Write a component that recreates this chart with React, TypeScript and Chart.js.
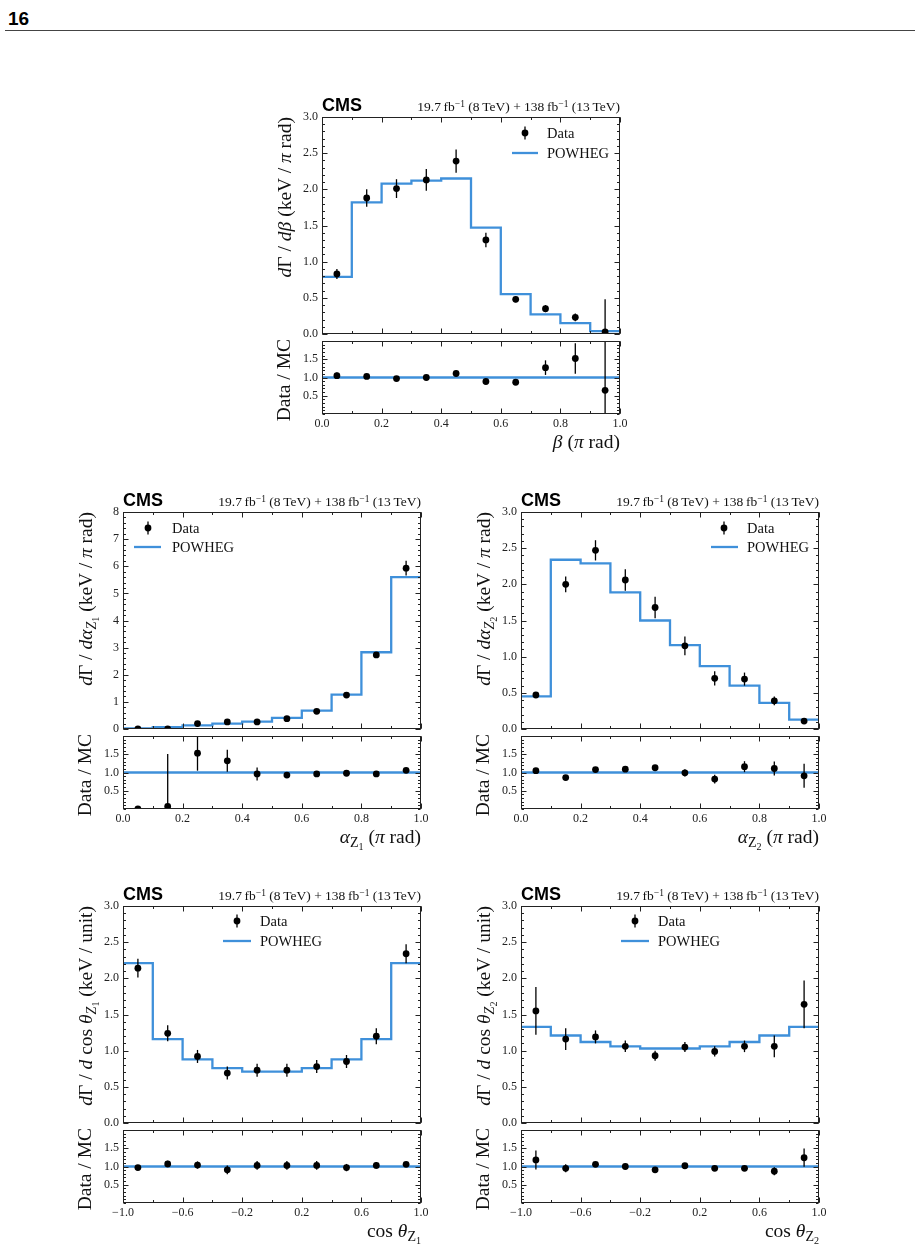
import React, { useEffect, useRef } from "react";
import { Chart, registerables } from "chart.js";

Chart.register(...registerables);

const BLUE = "#3f90da";
const SERIF = "'Liberation Serif', 'DejaVu Serif', serif";
const SANS = "'Liberation Sans', Arial, sans-serif";
const INK = "#222";
const TITLE_SIZE = 19.5;

// ---------- shared axes ----------
const angleEdges = [0.0, 0.1, 0.2, 0.3, 0.4, 0.5, 0.6, 0.7, 0.8, 0.9, 1.0];
const angleCenters = [0.05, 0.15, 0.25, 0.35, 0.45, 0.55, 0.65, 0.75, 0.85, 0.95];
const cosEdges = [-1.0, -0.8, -0.6, -0.4, -0.2, 0.0, 0.2, 0.4, 0.6, 0.8, 1.0];
const cosCenters = [-0.9, -0.7, -0.5, -0.3, -0.1, 0.1, 0.3, 0.5, 0.7, 0.9];

const angleTicks = [0.0, 0.2, 0.4, 0.6, 0.8, 1.0];
const angleTickLabels = ["0.0", "0.2", "0.4", "0.6", "0.8", "1.0"];
const cosTicks = [-1.0, -0.6, -0.2, 0.2, 0.6, 1.0];
const cosTickLabels = ["\u22121.0", "\u22120.6", "\u22120.2", "0.2", "0.6", "1.0"];
const yTicks3 = [0.0, 0.5, 1.0, 1.5, 2.0, 2.5, 3.0];
const yTickLabels3 = ["0.0", "0.5", "1.0", "1.5", "2.0", "2.5", "3.0"];
const yTicks8 = [0, 1, 2, 3, 4, 5, 6, 7, 8];
const yTickLabels8 = ["0", "1", "2", "3", "4", "5", "6", "7", "8"];
const ratioTicks = [0.5, 1.0, 1.5];
const ratioTickLabels = ["0.5", "1.0", "1.5"];

// ---------- beta ----------
const betaMC = [0.79, 1.82, 2.08, 2.12, 2.15, 1.47, 0.55, 0.27, 0.15, 0.04];
const betaData = [0.83, 1.88, 2.01, 2.13, 2.39, 1.3, 0.48, 0.35, 0.23, 0.03];
const betaErr = [0.07, 0.12, 0.13, 0.15, 0.16, 0.1, 0.04, 0.05, 0.055, 0.45];
const betaRatio = [1.05, 1.03, 0.97, 1.0, 1.11, 0.89, 0.87, 1.27, 1.52, 0.65];
const betaRatioErr = [0.09, 0.066, 0.06, 0.07, 0.075, 0.07, 0.07, 0.2, 0.42, 1.6];

// ---------- alpha Z1 ----------
const aZ1MC = [0.02, 0.07, 0.13, 0.2, 0.27, 0.41, 0.68, 1.27, 2.83, 5.6];
const aZ1Data = [0.0, 0.007, 0.2, 0.26, 0.26, 0.38, 0.65, 1.25, 2.73, 5.93];
const aZ1Err = [0.01, 0.1, 0.06, 0.06, 0.05, 0.04, 0.05, 0.06, 0.1, 0.27];
const aZ1Ratio = [0.0, 0.07, 1.53, 1.32, 0.96, 0.93, 0.96, 0.98, 0.96, 1.06];
const aZ1RatioErr = [0.0, 1.44, 0.48, 0.3, 0.18, 0.08, 0.05, 0.04, 0.04, 0.05];

// ---------- alpha Z2 ----------
const aZ2MC = [0.45, 2.34, 2.29, 1.89, 1.5, 1.16, 0.87, 0.6, 0.36, 0.13];
const aZ2Data = [0.47, 2.0, 2.47, 2.06, 1.68, 1.15, 0.7, 0.69, 0.39, 0.11];
const aZ2Err = [0.03, 0.11, 0.14, 0.15, 0.15, 0.13, 0.1, 0.09, 0.06, 0.03];
const aZ2Ratio = [1.05, 0.86, 1.08, 1.09, 1.13, 0.99, 0.82, 1.16, 1.11, 0.91];
const aZ2RatioErr = [0.07, 0.05, 0.06, 0.06, 0.07, 0.1, 0.12, 0.15, 0.19, 0.33];

// ---------- cos theta Z1 ----------
const cZ1MC = [2.21, 1.16, 0.88, 0.76, 0.71, 0.71, 0.76, 0.88, 1.16, 2.21];
const cZ1Data = [2.14, 1.24, 0.92, 0.69, 0.73, 0.73, 0.78, 0.85, 1.2, 2.34];
const cZ1Err = [0.13, 0.11, 0.09, 0.09, 0.09, 0.09, 0.09, 0.09, 0.11, 0.13];
const cZ1Ratio = [0.97, 1.07, 1.04, 0.91, 1.03, 1.03, 1.03, 0.97, 1.03, 1.06];
const cZ1RatioErr = [0.06, 0.09, 0.1, 0.12, 0.12, 0.12, 0.12, 0.1, 0.09, 0.06];

// ---------- cos theta Z2 ----------
const cZ2MC = [1.33, 1.21, 1.12, 1.06, 1.03, 1.03, 1.06, 1.12, 1.21, 1.33];
const cZ2Data = [1.55, 1.16, 1.19, 1.06, 0.93, 1.05, 0.99, 1.06, 1.06, 1.64];
const cZ2Err = [0.33, 0.15, 0.09, 0.08, 0.07, 0.07, 0.07, 0.08, 0.15, 0.33];
const cZ2Ratio = [1.18, 0.95, 1.06, 1.0, 0.91, 1.02, 0.95, 0.95, 0.87, 1.24];
const cZ2RatioErr = [0.26, 0.11, 0.06, 0.06, 0.06, 0.06, 0.06, 0.06, 0.11, 0.25];

// ---------- geometry ----------
const W = 298;
const H_MAIN = 217;
const GAP = 7;
const H_RATIO = 73;

function steps(from: number, to: number, step: number): number[] {
  const out: number[] = [];
  const n = Math.round((to - from) / step);
  for (let i = 0; i <= n; i++) out.push(+(from + i * step).toFixed(6));
  return out;
}

type Leg = { mx: number; my: number; tx: number; lx1: number; lx2: number; ly: number };

interface SubCfg {
  plotLeft: number;
  plotTop: number;
  w: number;
  h: number;
  xMin: number;
  xMax: number;
  xTicks: number[];
  xTickLabels: string[];
  xMinor: number[];
  showXLabels: boolean;
  yMin: number;
  yMax: number;
  yTicks: number[];
  yTickLabels: string[];
  yMinor: number[];
  line: { x: number; y: number }[];
  pts: number[];
  ptsX: number[];
  errs: number[];
  legend?: Leg;
}

function SubPlot({ cfg }: { cfg: SubCfg }) {
  const ref = useRef<HTMLCanvasElement>(null);
  const PADL = 50;
  const PADR = 18;
  const PADT = 12;
  const PADB = cfg.showXLabels ? 26 : 12;
  const cw = cfg.w + PADL + PADR;
  const ch = cfg.h + PADT + PADB;

  useEffect(() => {
    const canvas = ref.current!;
    const overlay = {
      id: "frameAndBars",
      afterDatasetsDraw(chart: any) {
        const { ctx, chartArea: a } = chart;
        const xs = chart.scales.x;
        const ys = chart.scales.y;
        ctx.save();
        ctx.beginPath();
        ctx.rect(a.left, a.top, a.right - a.left, a.bottom - a.top);
        ctx.clip();
        ctx.strokeStyle = "#000";
        ctx.lineWidth = 1.3;
        cfg.ptsX.forEach((cx, i) => {
          const e = cfg.errs[i];
          if (!e) return;
          const px = xs.getPixelForValue(cx);
          ctx.beginPath();
          ctx.moveTo(px, ys.getPixelForValue(cfg.pts[i] - e));
          ctx.lineTo(px, ys.getPixelForValue(cfg.pts[i] + e));
          ctx.stroke();
        });
        ctx.restore();
      },
      afterDraw(chart: any) {
        const { ctx, chartArea: a } = chart;
        const xs = chart.scales.x;
        const ys = chart.scales.y;
        const L = Math.round(a.left) + 0.5;
        const R = Math.round(a.right) - 0.5;
        const T = Math.round(a.top) + 0.5;
        const B = Math.round(a.bottom) - 0.5;
        ctx.save();
        ctx.strokeStyle = INK;
        ctx.lineWidth = 1;
        ctx.strokeRect(L, T, R - L, B - T);
        const vtick = (v: number, len: number) => {
          const px = Math.round(xs.getPixelForValue(v)) + 0.5;
          ctx.beginPath();
          ctx.moveTo(px, B);
          ctx.lineTo(px, B - len);
          ctx.moveTo(px, T);
          ctx.lineTo(px, T + len);
          ctx.stroke();
        };
        const htick = (v: number, len: number) => {
          const py = Math.round(ys.getPixelForValue(v)) + 0.5;
          ctx.beginPath();
          ctx.moveTo(L, py);
          ctx.lineTo(L + len, py);
          ctx.moveTo(R, py);
          ctx.lineTo(R - len, py);
          ctx.stroke();
        };
        cfg.xMinor.forEach((v) => vtick(v, 2.5));
        cfg.xTicks.forEach((v) => vtick(v, 5));
        cfg.yMinor.forEach((v) => htick(v, 2.5));
        cfg.yTicks.forEach((v) => htick(v, 5));

        const lg = cfg.legend;
        if (lg) {
          const ox = a.left;
          const oy = a.top;
          ctx.strokeStyle = "#000";
          ctx.lineWidth = 1.3;
          ctx.beginPath();
          ctx.moveTo(ox + lg.mx, oy + lg.my - 6.5);
          ctx.lineTo(ox + lg.mx, oy + lg.my + 6.5);
          ctx.stroke();
          ctx.fillStyle = "#000";
          ctx.beginPath();
          ctx.arc(ox + lg.mx, oy + lg.my, 3.4, 0, Math.PI * 2);
          ctx.fill();
          ctx.strokeStyle = BLUE;
          ctx.lineWidth = 2.3;
          ctx.beginPath();
          ctx.moveTo(ox + lg.lx1, oy + lg.ly);
          ctx.lineTo(ox + lg.lx2, oy + lg.ly);
          ctx.stroke();
          ctx.fillStyle = "#111";
          ctx.font = `14.5px ${SERIF}`;
          ctx.textBaseline = "middle";
          ctx.textAlign = "left";
          ctx.fillText("Data", ox + lg.tx, oy + lg.my + 1);
          ctx.fillText("POWHEG", ox + lg.tx, oy + lg.ly + 1);
        }
        ctx.restore();
      },
    };

    const chart = new Chart(canvas, {
      type: "line",
      data: {
        datasets: [
          {
            label: "Data",
            data: cfg.ptsX.map((x, i) => ({ x, y: cfg.pts[i] })),
            showLine: false,
            pointRadius: 3.4,
            pointBorderWidth: 0,
            pointBackgroundColor: "#000",
            pointBorderColor: "#000",
            order: 0,
          },
          {
            label: "POWHEG",
            data: cfg.line,
            stepped: "before",
            borderColor: BLUE,
            borderWidth: 2.3,
            pointRadius: 0,
            fill: false,
            order: 1,
          },
        ],
      },
      options: {
        animation: false,
        responsive: false,
        devicePixelRatio: 1,
        events: [],
        layout: { padding: { left: 0, right: PADR, top: PADT, bottom: cfg.showXLabels ? 0 : PADB } },
        plugins: { legend: { display: false }, tooltip: { enabled: false } },
        scales: {
          x: {
            type: "linear",
            min: cfg.xMin,
            max: cfg.xMax,
            display: cfg.showXLabels,
            afterBuildTicks: (s: any) => {
              s.ticks = cfg.xTicks.map((v) => ({ value: v }));
            },
            afterFit: (s: any) => {
              s.height = cfg.showXLabels ? PADB : 0;
            },
            ticks: {
              autoSkip: false,
              maxRotation: 0,
              padding: 3,
              color: INK,
              font: { family: SERIF, size: 12 },
              callback: (v: any) => {
                const i = cfg.xTicks.findIndex((t) => Math.abs(t - v) < 1e-6);
                return i >= 0 ? cfg.xTickLabels[i] : "";
              },
            },
            grid: { display: false, drawTicks: false },
            border: { display: false },
          },
          y: {
            type: "linear",
            min: cfg.yMin,
            max: cfg.yMax,
            afterBuildTicks: (s: any) => {
              s.ticks = cfg.yTicks.map((v) => ({ value: v }));
            },
            afterFit: (s: any) => {
              s.width = PADL;
            },
            ticks: {
              autoSkip: false,
              padding: 4,
              color: INK,
              font: { family: SERIF, size: 12 },
              callback: (v: any) => {
                const i = cfg.yTicks.findIndex((t) => Math.abs(t - v) < 1e-6);
                return i >= 0 ? cfg.yTickLabels[i] : "";
              },
            },
            grid: { display: false, drawTicks: false },
            border: { display: false },
          },
        },
      } as any,
      plugins: [overlay as any],
    });
    const a = chart.chartArea;
    canvas.style.left = `${cfg.plotLeft - a.left}px`;
    canvas.style.top = `${cfg.plotTop - a.top}px`;
    return () => chart.destroy();
  }, []);

  return (
    <canvas
      ref={ref}
      width={cw}
      height={ch}
      style={{ position: "absolute", left: cfg.plotLeft - PADL, top: cfg.plotTop - PADT, width: cw, height: ch }}
    />
  );
}

const Sub = ({ children }: { children: React.ReactNode }) => (
  <span style={{ fontSize: "0.72em", verticalAlign: "-0.28em", lineHeight: 0 }}>{children}</span>
);
const Sup = ({ children }: { children: React.ReactNode }) => (
  <span style={{ fontSize: "0.7em", verticalAlign: "0.45em", lineHeight: 0 }}>{children}</span>
);

function RotTitle({ cx, top, children }: { cx: number; top: number; children: React.ReactNode }) {
  return (
    <div style={{ position: "absolute", left: cx, top, width: 0, height: 0 }}>
      <span
        style={{
          position: "absolute",
          right: 0,
          top: -11,
          height: 22,
          lineHeight: "22px",
          whiteSpace: "nowrap",
          transformOrigin: "100% 50%",
          transform: "rotate(-90deg)",
          fontFamily: SERIF,
          fontSize: TITLE_SIZE,
          color: "#111",
        }}
      >
        {children}
      </span>
    </div>
  );
}

interface PanelDef {
  left: number;
  top: number;
  edges: number[];
  centers: number[];
  xMin: number;
  xMax: number;
  xTicks: number[];
  xTickLabels: string[];
  xMinorStep: number;
  yMax: number;
  yTicks: number[];
  yTickLabels: string[];
  yMinorStep: number;
  mc: number[];
  data: number[];
  err: number[];
  ratio: number[];
  ratioErr: number[];
  legend: Leg;
  yTitle: React.ReactNode;
  xTitle: React.ReactNode;
}

function Panel({ p }: { p: PanelDef }) {
  const xMinor = steps(p.xMin, p.xMax, p.xMinorStep);
  const mainCfg: SubCfg = {
    plotLeft: p.left,
    plotTop: p.top,
    w: W,
    h: H_MAIN,
    xMin: p.xMin,
    xMax: p.xMax,
    xTicks: p.xTicks,
    xTickLabels: p.xTickLabels,
    xMinor,
    showXLabels: false,
    yMin: 0,
    yMax: p.yMax,
    yTicks: p.yTicks,
    yTickLabels: p.yTickLabels,
    yMinor: steps(0, p.yMax, p.yMinorStep),
    line: p.edges.map((e, i) => ({ x: e, y: p.mc[Math.min(i, p.mc.length - 1)] })),
    pts: p.data,
    ptsX: p.centers,
    errs: p.err,
    legend: p.legend,
  };
  const ratioTop = p.top + H_MAIN + GAP;
  const ratioCfg: SubCfg = {
    plotLeft: p.left,
    plotTop: ratioTop,
    w: W,
    h: H_RATIO,
    xMin: p.xMin,
    xMax: p.xMax,
    xTicks: p.xTicks,
    xTickLabels: p.xTickLabels,
    xMinor,
    showXLabels: true,
    yMin: 0,
    yMax: 2,
    yTicks: ratioTicks,
    yTickLabels: ratioTickLabels,
    yMinor: steps(0, 2, 0.1),
    line: [
      { x: p.xMin, y: 1 },
      { x: p.xMax, y: 1 },
    ],
    pts: p.ratio,
    ptsX: p.centers,
    errs: p.ratioErr,
  };
  const right = p.left + W;
  const ratioBottom = ratioTop + H_RATIO;
  return (
    <>
      <SubPlot cfg={mainCfg} />
      <SubPlot cfg={ratioCfg} />
      <div
        style={{
          position: "absolute",
          left: p.left,
          top: p.top - 21,
          fontFamily: SANS,
          fontWeight: "bold",
          fontSize: 18,
          lineHeight: "18px",
          color: "#000",
        }}
      >
        CMS
      </div>
      <div
        style={{
          position: "absolute",
          left: right,
          top: p.top - 17,
          transform: "translateX(-100%)",
          whiteSpace: "nowrap",
          fontFamily: SERIF,
          fontSize: 13.5,
          lineHeight: "13px",
          color: "#111",
        }}
      >
        19.7{"\u2009"}fb<Sup>{"\u22121"}</Sup> (8{"\u2009"}TeV) + 138{"\u2009"}fb<Sup>{"\u22121"}</Sup> (13{"\u2009"}TeV)
      </div>
      <RotTitle cx={p.left - 37} top={p.top}>
        {p.yTitle}
      </RotTitle>
      <RotTitle cx={p.left - 38} top={ratioTop - 2}>
        Data / MC
      </RotTitle>
      <div
        style={{
          position: "absolute",
          left: right,
          top: ratioBottom + 18,
          transform: "translateX(-100%)",
          whiteSpace: "nowrap",
          fontFamily: SERIF,
          fontSize: TITLE_SIZE,
          lineHeight: "20px",
          color: "#111",
        }}
      >
        {p.xTitle}
      </div>
    </>
  );
}

const panels: PanelDef[] = [
  {
    left: 322,
    top: 117,
    edges: angleEdges,
    centers: angleCenters,
    xMin: 0,
    xMax: 1,
    xTicks: angleTicks,
    xTickLabels: angleTickLabels,
    xMinorStep: 0.1,
    yMax: 3,
    yTicks: yTicks3,
    yTickLabels: yTickLabels3,
    yMinorStep: 0.1,
    mc: betaMC,
    data: betaData,
    err: betaErr,
    ratio: betaRatio,
    ratioErr: betaRatioErr,
    legend: { mx: 203, my: 16, tx: 225, lx1: 190, lx2: 216, ly: 36 },
    yTitle: (
      <>
        <i>d</i>Γ / <i>dβ</i> (keV / <i>π</i> rad)
      </>
    ),
    xTitle: (
      <>
        <i>β</i> (<i>π</i> rad)
      </>
    ),
  },
  {
    left: 123,
    top: 512,
    edges: angleEdges,
    centers: angleCenters,
    xMin: 0,
    xMax: 1,
    xTicks: angleTicks,
    xTickLabels: angleTickLabels,
    xMinorStep: 0.1,
    yMax: 8,
    yTicks: yTicks8,
    yTickLabels: yTickLabels8,
    yMinorStep: 0.2,
    mc: aZ1MC,
    data: aZ1Data,
    err: aZ1Err,
    ratio: aZ1Ratio,
    ratioErr: aZ1RatioErr,
    legend: { mx: 25, my: 16, tx: 49, lx1: 11, lx2: 38, ly: 35 },
    yTitle: (
      <>
        <i>d</i>Γ / <i>dα</i>
        <Sub>
          <i>Z</i>
          <Sub>1</Sub>
        </Sub>{" "}
        (keV / <i>π</i> rad)
      </>
    ),
    xTitle: (
      <>
        <i>α</i>
        <Sub>
          Z<Sub>1</Sub>
        </Sub>{" "}
        (<i>π</i> rad)
      </>
    ),
  },
  {
    left: 521,
    top: 512,
    edges: angleEdges,
    centers: angleCenters,
    xMin: 0,
    xMax: 1,
    xTicks: angleTicks,
    xTickLabels: angleTickLabels,
    xMinorStep: 0.1,
    yMax: 3,
    yTicks: yTicks3,
    yTickLabels: yTickLabels3,
    yMinorStep: 0.1,
    mc: aZ2MC,
    data: aZ2Data,
    err: aZ2Err,
    ratio: aZ2Ratio,
    ratioErr: aZ2RatioErr,
    legend: { mx: 203, my: 16, tx: 226, lx1: 190, lx2: 217, ly: 35 },
    yTitle: (
      <>
        <i>d</i>Γ / <i>dα</i>
        <Sub>
          <i>Z</i>
          <Sub>2</Sub>
        </Sub>{" "}
        (keV / <i>π</i> rad)
      </>
    ),
    xTitle: (
      <>
        <i>α</i>
        <Sub>
          Z<Sub>2</Sub>
        </Sub>{" "}
        (<i>π</i> rad)
      </>
    ),
  },
  {
    left: 123,
    top: 906,
    edges: cosEdges,
    centers: cosCenters,
    xMin: -1,
    xMax: 1,
    xTicks: cosTicks,
    xTickLabels: cosTickLabels,
    xMinorStep: 0.2,
    yMax: 3,
    yTicks: yTicks3,
    yTickLabels: yTickLabels3,
    yMinorStep: 0.1,
    mc: cZ1MC,
    data: cZ1Data,
    err: cZ1Err,
    ratio: cZ1Ratio,
    ratioErr: cZ1RatioErr,
    legend: { mx: 114, my: 15, tx: 137, lx1: 100, lx2: 128, ly: 35 },
    yTitle: (
      <>
        <i>d</i>Γ / <i>d</i> cos <i>θ</i>
        <Sub>
          <i>Z</i>
          <Sub>1</Sub>
        </Sub>{" "}
        (keV / unit)
      </>
    ),
    xTitle: (
      <>
        cos <i>θ</i>
        <Sub>
          Z<Sub>1</Sub>
        </Sub>
      </>
    ),
  },
  {
    left: 521,
    top: 906,
    edges: cosEdges,
    centers: cosCenters,
    xMin: -1,
    xMax: 1,
    xTicks: cosTicks,
    xTickLabels: cosTickLabels,
    xMinorStep: 0.2,
    yMax: 3,
    yTicks: yTicks3,
    yTickLabels: yTickLabels3,
    yMinorStep: 0.1,
    mc: cZ2MC,
    data: cZ2Data,
    err: cZ2Err,
    ratio: cZ2Ratio,
    ratioErr: cZ2RatioErr,
    legend: { mx: 114, my: 15, tx: 137, lx1: 100, lx2: 128, ly: 35 },
    yTitle: (
      <>
        <i>d</i>Γ / <i>d</i> cos <i>θ</i>
        <Sub>
          <i>Z</i>
          <Sub>2</Sub>
        </Sub>{" "}
        (keV / unit)
      </>
    ),
    xTitle: (
      <>
        cos <i>θ</i>
        <Sub>
          Z<Sub>2</Sub>
        </Sub>
      </>
    ),
  },
];

export default function App() {
  return (
    <div style={{ position: "absolute", left: 0, top: 0, width: 920, height: 1254, background: "#fff", overflow: "hidden" }}>
      <div
        style={{
          position: "absolute",
          left: 8,
          top: 9,
          fontFamily: SANS,
          fontWeight: "bold",
          fontSize: 19,
          lineHeight: "19px",
          color: "#000",
        }}
      >
        16
      </div>
      <div style={{ position: "absolute", left: 5, top: 30, width: 910, height: 1, background: "#444" }} />
      {panels.map((p, i) => (
        <Panel key={i} p={p} />
      ))}
    </div>
  );
}
